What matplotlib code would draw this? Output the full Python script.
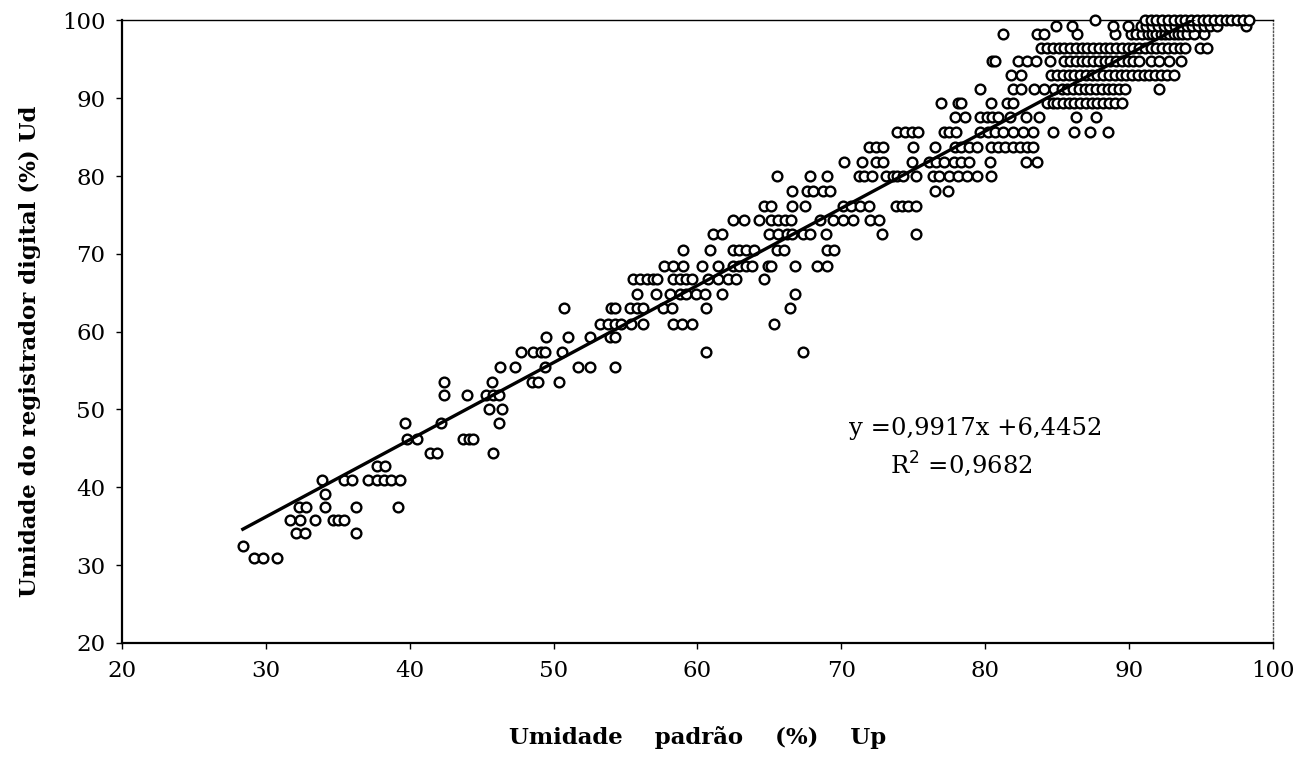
import matplotlib
matplotlib.use("Agg")
import matplotlib.pyplot as plt
import numpy as np

ud_levels = [30.9, 32.5, 34.1, 35.8, 37.5, 39.2, 40.9, 42.7, 44.4, 46.2,
             48.2, 50.0, 51.8, 53.5, 55.5, 57.4, 59.3, 61.0, 63.0, 64.9,
             66.8, 68.5, 70.5, 72.5, 74.3, 76.2, 78.1, 80.0, 81.8, 83.7,
             85.7, 87.6, 89.4, 91.2, 93.0, 94.8, 96.5, 98.2, 99.3, 100.0]

up_rows = [
    [29.2, 29.8, 30.8],
    [28.4],
    [32.1, 32.7, 36.3],
    [31.7, 32.4, 33.4, 34.7, 35.0, 35.4],
    [32.3, 32.8, 34.1, 36.3, 39.2],
    [34.1],
    [33.9, 35.4, 36.0, 37.1, 37.7, 38.2, 38.7, 39.3],
    [37.7, 38.3],
    [41.4, 41.9, 45.8],
    [39.8, 40.5, 43.7, 44.1, 44.4],
    [39.7, 42.2, 46.2],
    [45.5, 46.4],
    [42.4, 44.0, 45.3, 45.8, 46.2],
    [42.4, 45.7, 48.5, 48.9, 50.4],
    [46.3, 47.3, 49.4, 51.7, 52.5, 54.3],
    [47.7, 48.6, 49.1, 49.4, 50.6, 60.6, 67.3],
    [49.5, 51.0, 52.5, 53.9, 54.3],
    [53.2, 53.8, 54.3, 54.7, 55.4, 56.2, 58.3, 58.9, 59.6, 65.3],
    [50.7, 54.0, 54.3, 55.3, 55.8, 56.2, 57.6, 58.2, 60.6, 66.4],
    [55.8, 57.1, 58.1, 58.8, 59.2, 59.9, 60.5, 61.7, 66.8],
    [55.5, 56.0, 56.5, 56.9, 57.2, 58.3, 58.8, 59.2, 59.6, 60.7, 61.4, 62.1,
     62.7, 64.6],
    [57.7, 58.3, 59.0, 60.3, 61.4, 62.5, 62.9, 63.4, 63.8, 64.9, 65.1, 66.8,
     68.3, 69.0],
    [59.0, 60.9, 62.5, 62.9, 63.4, 63.9, 65.5, 66.0, 69.0, 69.5],
    [61.1, 61.7, 65.0, 65.6, 66.2, 66.6, 67.3, 67.8, 68.9, 72.8, 75.2],
    [62.5, 63.2, 64.3, 65.1, 65.6, 66.1, 66.5, 68.5, 69.4, 70.1, 70.8, 72.0,
     72.6],
    [64.6, 65.1, 66.6, 67.5, 70.1, 70.7, 71.3, 71.9, 73.8, 74.2, 74.6, 75.2],
    [66.6, 67.6, 68.0, 68.7, 69.2, 76.5, 77.4],
    [65.5, 67.8, 69.0, 71.2, 71.6, 72.1, 73.1, 73.6, 73.9, 74.3, 75.2, 76.4,
     76.8, 77.5, 78.1, 78.7, 79.4, 80.4],
    [70.2, 71.4, 72.4, 72.9, 74.9, 76.1, 76.6, 77.1, 77.8, 78.3, 78.9, 80.3,
     82.8, 83.6],
    [71.9, 72.4, 72.9, 75.0, 76.5, 77.9, 78.3, 78.9, 79.4, 80.4, 80.9, 81.4,
     81.9, 82.4, 82.9, 83.3],
    [73.9, 74.4, 74.9, 75.3, 77.1, 77.5, 78.0, 79.6, 80.2, 80.7, 81.2, 81.9,
     82.6, 83.3, 84.7, 86.2, 87.3, 88.5],
    [77.9, 78.6, 79.6, 80.1, 80.5, 80.9, 81.7, 82.8, 83.7, 86.3, 87.7],
    [76.9, 78.1, 78.3, 80.4, 81.5, 81.9, 84.3, 84.7, 85.0, 85.4, 85.8, 86.2,
     86.6, 87.0, 87.4, 87.8, 88.2, 88.6, 89.0, 89.5],
    [79.6, 81.9, 82.5, 83.4, 84.1, 84.8, 85.3, 85.7, 86.1, 86.5, 86.9, 87.3,
     87.7, 88.1, 88.5, 88.9, 89.3, 89.7, 92.1],
    [81.8, 82.5, 84.6, 85.0, 85.4, 85.8, 86.2, 86.6, 87.0, 87.4, 87.8, 88.2,
     88.6, 89.0, 89.4, 89.8, 90.2, 90.6, 91.0, 91.4, 91.8, 92.2, 92.6, 93.1],
    [80.5, 80.7, 82.3, 82.9, 83.5, 84.5, 85.5, 85.9, 86.3, 86.7, 87.1, 87.5,
     87.9, 88.3, 88.7, 89.1, 89.5, 89.9, 90.3, 90.7, 91.5, 92.1, 92.8, 93.6],
    [83.9, 84.3, 84.7, 85.1, 85.5, 85.9, 86.3, 86.7, 87.1, 87.5, 87.9, 88.3,
     88.7, 89.1, 89.5, 89.9, 90.3, 90.7, 91.1, 91.5, 91.9, 92.3, 92.7, 93.1,
     93.5, 93.9, 94.9, 95.4],
    [81.2, 83.6, 84.1, 86.4, 89.0, 90.1, 90.5, 90.9, 91.3, 91.6, 91.9, 92.2,
     92.5, 92.8, 93.1, 93.4, 93.7, 94.0, 94.5, 95.2],
    [84.9, 86.0, 88.9, 89.9, 90.8, 91.2, 91.6, 92.0, 92.4, 92.8, 93.2, 93.6,
     94.0, 94.4, 94.8, 95.2, 95.6, 96.1, 98.1],
    [87.6, 91.1, 91.5, 91.9, 92.3, 92.7, 93.1, 93.5, 93.9, 94.3, 94.7, 95.1,
     95.5, 95.9, 96.3, 96.7, 97.1, 97.5, 97.9, 98.3],
]

# trend line from the equation on the chart
slope = 0.9917
intercept = 6.4452
r2 = 0.9682

up = []
ud = []
for lev, row in zip(ud_levels, up_rows):
    for v in row:
        up.append(v)
        ud.append(lev)
up = np.array(up)
ud = np.array(ud)

plt.rcParams['font.family'] = ['DejaVu Serif']

fig = plt.figure(figsize=(13.03, 7.59), dpi=100)
ax = fig.add_axes([0.0936, 0.153, 0.8834, 0.820])

ax.plot(up, ud, 'o', mfc='white', mec='black', ms=7, mew=1.7,
        linestyle='none', clip_on=False, zorder=3)

xl = np.array([up.min(), up.max()])
ax.plot(xl, slope * xl + intercept, color='black', lw=2.4, zorder=4)

ax.set_xlim(20, 100)
ax.set_ylim(20, 100)
ax.set_xticks([20, 30, 40, 50, 60, 70, 80, 90, 100])
ax.set_yticks([20, 30, 40, 50, 60, 70, 80, 90, 100])
ax.tick_params(axis='both', labelsize=16.5, direction='out', length=4,
               width=1.0, pad=8)

ax.spines['left'].set_linewidth(1.6)
ax.spines['bottom'].set_linewidth(1.6)
ax.spines['top'].set_linewidth(1.0)
ax.spines['right'].set_linewidth(1.0)
ax.spines['right'].set_linestyle(':')
ax.spines['right'].set_color('#555555')

ax.set_xlabel('Umidade    padrão    (%)    Up', fontsize=16.5,
              fontweight='bold', labelpad=32)
ax.set_ylabel('Umidade do registrador digital (%) Ud', fontsize=16.5,
              fontweight='bold')
ax.yaxis.set_label_coords(-0.07, 0.468)

ax.text(79.3, 47.6, 'y =0,9917x +6,4452', fontsize=17.5, ha='center',
        va='center')
ax.text(78.3, 42.9, 'R$^2$ =0,9682', fontsize=17.5, ha='center', va='center')

fig.savefig('out.png', dpi=100)
